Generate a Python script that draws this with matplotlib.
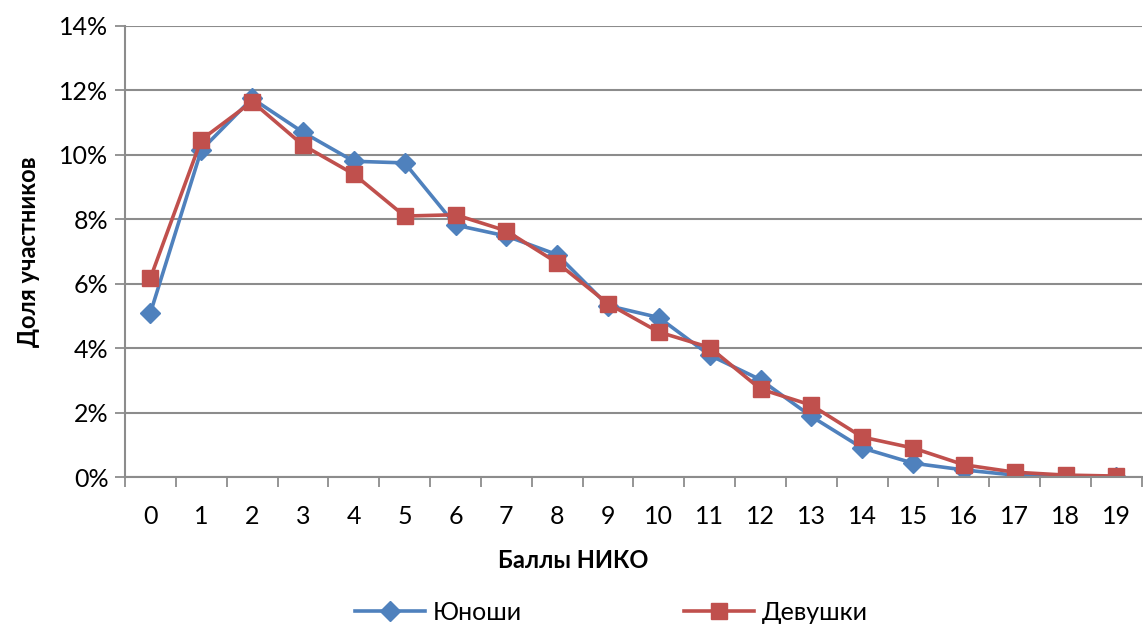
import matplotlib.pyplot as plt
import numpy as np
from matplotlib.ticker import FuncFormatter, MultipleLocator

plt.rcParams['font.family'] = ['Lato', 'DejaVu Sans']

# баллы НИКО
scores = list(range(20))

# доля участников, %
boys = [5.1, 10.15, 11.75, 10.7, 9.8, 9.75, 7.82, 7.48, 6.9, 5.32,
        4.95, 3.78, 3.02, 1.88, 0.9, 0.43, 0.22, 0.06, 0.01, 0.0]
girls = [6.18, 10.47, 11.65, 10.3, 9.4, 8.1, 8.14, 7.64, 6.65, 5.38,
         4.5, 4.02, 2.73, 2.23, 1.24, 0.9, 0.38, 0.15, 0.06, 0.03]

blue = '#4F81BD'
red = '#C0504D'
grid_c = '#8C8C8C'

fig = plt.figure(figsize=(11.43, 6.33), dpi=100)
ax = fig.add_axes([0.1094, 0.2464, 0.8896, 0.7126])

ax.plot(scores, boys, color=blue, lw=2.6, marker='D', ms=10, label='Юноши')
ax.plot(scores, girls, color=red, lw=2.6, marker='s', ms=11.5, label='Девушки')

ax.set_xlim(-0.5, 19.5)
ax.set_ylim(0, 14)
ax.yaxis.set_major_locator(MultipleLocator(2))
ax.yaxis.set_major_formatter(FuncFormatter(lambda v, p: f'{v:.0f}%'))
ax.set_xticks(scores)
ax.set_xticks(np.arange(-0.5, 20, 1), minor=True)
ax.tick_params(axis='x', which='major', length=0, pad=20, labelsize=18)
ax.tick_params(axis='x', which='minor', length=7, width=1.3, color=grid_c)
ax.tick_params(axis='y', length=7, width=1.3, color=grid_c, labelsize=18, pad=5)

ax.grid(axis='y', color=grid_c, lw=1.5)
ax.set_axisbelow(True)
for s in ['top', 'right']:
    ax.spines[s].set_visible(False)
for s in ['left', 'bottom']:
    ax.spines[s].set_color(grid_c)
    ax.spines[s].set_linewidth(1.5)

ax.set_xlabel('Баллы НИКО', fontsize=17, fontweight='bold')
ax.xaxis.set_label_coords(0.441, -0.16)
ax.set_ylabel('Доля участников', fontsize=17, fontweight='bold')
ax.yaxis.set_label_coords(-0.084, 0.5)

fig.legend(loc='center', bbox_to_anchor=(0.535, 0.033), ncol=2,
           frameon=False, fontsize=18, columnspacing=6.5, handlelength=2.8,
           handletextpad=0.3)

fig.savefig('out.png', dpi=100)
